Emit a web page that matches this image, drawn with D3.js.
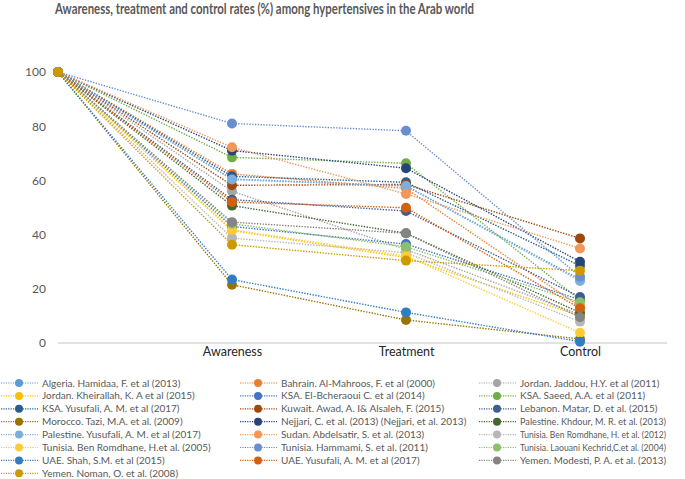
<!DOCTYPE html>
<html>
<head>
<meta charset="utf-8">
<script src="https://cdn.jsdelivr.net/npm/d3@7"></script>
<style>
  body { margin: 0; background: #fff; }
  text { font-family: Lato, "Open Sans", sans-serif; }
</style>
</head>
<body>
<div class="chart"></div>
<script>
// categories (first one is the 100% baseline, unlabeled)
var categories = ["", "Awareness", "Treatment", "Control"];
var yTicks = [0, 20, 40, 60, 80, 100];

var seriesNames = [
  "Algeria. Hamidaa, F. et al (2013)",
  "Bahrain. Al-Mahroos, F. et al (2000)",
  "Jordan. Jaddou, H.Y. et al (2011)",
  "Jordan. Kheirallah, K. A et al (2015)",
  "KSA. El-Bcheraoui C. et al (2014)",
  "KSA. Saeed, A.A. et al (2011)",
  "KSA. Yusufali, A. M. et al (2017)",
  "Kuwait. Awad, A. I& Alsaleh, F. (2015)",
  "Lebanon. Matar, D. et al. (2015)",
  "Morocco. Tazi, M.A. et al. (2009)",
  "Nejjari, C. et al. (2013) (Nejjari, et al. 2013)",
  "Palestine. Khdour, M. R. et al. (2013)",
  "Palestine. Yusufali, A. M. et al (2017)",
  "Sudan. Abdelsatir, S. et al. (2013)",
  "Tunisia. Ben Romdhane, H. et al. (2012)",
  "Tunisia. Ben Romdhane, H.et al. (2005)",
  "Tunisia. Hammami, S. et al. (2011)",
  "Tunisia. Laouani Kechrid,C.et al. (2004)",
  "UAE. Shah, S.M. et al (2015)",
  "UAE. Yusufali, A. M. et al (2017)",
  "Yemen. Modesti, P. A. et al. (2013)",
  "Yemen. Noman, O. et al. (2008)"
];

// values per series: baseline, awareness, treatment, control
var seriesValues = [
  [100, 60.5, 58.0, 23.5],
  [100, 62.4, 57.0, 13.5],
  [100, 56.0, 34.5, 10.5],
  [100, 41.5, 31.5, 10.0],
  [100, 43.0, 36.5, 16.0],
  [100, 68.5, 66.3, 15.9],
  [100, 61.5, 59.3, 28.5],
  [100, 58.2, 58.5, 38.6],
  [100, 52.9, 48.7, 17.0],
  [100, 21.5, 8.5, 1.5],
  [100, 71.0, 64.5, 30.0],
  [100, 50.7, 40.5, 11.2],
  [100, 60.3, 57.9, 22.9],
  [100, 72.2, 55.0, 34.9],
  [100, 38.7, 33.3, 7.9],
  [100, 41.8, 32.1, 3.8],
  [100, 81.0, 78.3, 24.5],
  [100, 44.0, 35.5, 15.0],
  [100, 23.4, 11.3, 0.5],
  [100, 52.0, 49.9, 12.8],
  [100, 44.6, 40.5, 9.5],
  [100, 36.3, 30.4, 26.7]
];

var seriesColors = [
  "#5B9BD5", "#ED7D31", "#A5A5A5", "#FFC000", "#4472C4", "#70AD47",
  "#255E91", "#9E480E", "#3E5F8E", "#997300", "#264478", "#43682B",
  "#7CAFDD", "#F1975A", "#B7B7B7", "#FFCD33", "#698ED0", "#8CC168",
  "#327DC2", "#D26012", "#848484", "#CC9A00"
];

var w = 685, h = 479;
var svg = d3.select(".chart").append("svg")
  .attr("width", w)
  .attr("height", h);

var x = d3.scalePoint().domain(categories).range([58, 580]);
var y = d3.scaleLinear().domain([0, 100]).range([343, 72]);

// title
svg.append("text")
  .attr("x", 55).attr("y", 14)
  .attr("font-size", "14.5px")
  .attr("font-weight", "bold")
  .attr("fill", "#595959")
  .attr("textLength", 419)
  .attr("lengthAdjust", "spacingAndGlyphs")
  .text("Awareness, treatment and control rates (%) among hypertensives in the Arab world");

// y axis (labels only)
var yAxis = d3.axisLeft(y).tickValues(yTicks).tickSize(0).tickPadding(0);
var gy = svg.append("g").attr("transform", "translate(46,0)").call(yAxis);
gy.select(".domain").remove();
gy.selectAll("text").attr("font-size", "12px").attr("fill", "#595959")
  .attr("font-family", "Lato, sans-serif");

// x axis
var xAxis = d3.axisBottom(x).tickSize(0).tickPadding(4);
var gx = svg.append("g").attr("transform", "translate(0,343)").call(xAxis);
gx.select(".domain").remove();
gx.append("line").attr("x1", 58).attr("x2", 667)
  .attr("stroke", "#D9D9D9").attr("stroke-width", 1.5);
gx.selectAll("text").attr("font-size", "12.5px").attr("fill", "#262626")
  .attr("font-family", "Lato, sans-serif");

var line = d3.line()
  .x(function(d, i) { return x(categories[i]); })
  .y(function(d) { return y(d); });

var groups = svg.selectAll(".series").data(seriesValues).enter()
  .append("g").attr("class", "series");

groups.append("path")
  .attr("d", function(d) { return line(d); })
  .attr("fill", "none")
  .attr("stroke", function(d, i) { return seriesColors[i]; })
  .attr("stroke-width", 1.4)
  .attr("stroke-dasharray", "1.4,1.4");

groups.selectAll("circle").data(function(d, i) {
    return d.map(function(v, j) { return {v: v, j: j, c: seriesColors[i]}; });
  }).enter().append("circle")
  .attr("cx", function(d) { return x(categories[d.j]); })
  .attr("cy", function(d) { return y(d.v); })
  .attr("r", 5)
  .attr("fill", function(d) { return d.c; });

// legend, 3 columns
var legend = svg.selectAll(".legend").data(seriesNames).enter()
  .append("g").attr("class", "legend")
  .attr("transform", function(d, i) {
    return "translate(" + ((i % 3) * 239) + "," + (383 + Math.floor(i / 3) * 12.9) + ")";
  });
legend.append("line")
  .attr("x1", 1).attr("x2", 38).attr("y1", 0).attr("y2", 0)
  .attr("stroke", function(d, i) { return seriesColors[i]; })
  .attr("stroke-width", 1.2)
  .attr("stroke-dasharray", "1.2,1.2");
legend.append("circle")
  .attr("cx", 19).attr("cy", 0).attr("r", 4)
  .attr("fill", function(d, i) { return seriesColors[i]; });
legend.append("text")
  .attr("x", 42).attr("y", 3.5)
  .attr("font-size", "10px")
  .attr("fill", "#595959")
  .text(function(d) { return d; })
  .each(function(d, i) {
    // keep long names inside the column
    var maxW = 190;
    if (i % 3 === 2) maxW = 146;
    if (this.getComputedTextLength() > maxW) {
      d3.select(this).attr("textLength", maxW).attr("lengthAdjust", "spacingAndGlyphs");
    }
  });
</script>
</body>
</html>
